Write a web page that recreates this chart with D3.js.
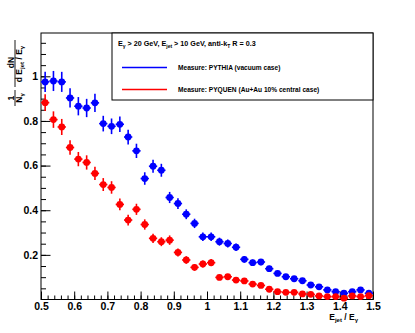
<!DOCTYPE html>
<html>
<head>
<meta charset="utf-8">
<script src="https://cdn.jsdelivr.net/npm/d3@7"></script>
<style>
  body { margin: 0; background: #fff; }
  text { font-family: "Liberation Sans", Arial, sans-serif; font-weight: bold; fill: #000; }
</style>
</head>
<body>
<svg id="chart" width="415" height="333"></svg>
<script>
// bin centres of E_jet / E_gamma (bin width 0.025)
const binCenters = [0.5125,0.5375,0.5625,0.5875,0.6125,0.6375,0.6625,0.6875,0.7125,0.7375,
                    0.7625,0.7875,0.8125,0.8375,0.8625,0.8875,0.9125,0.9375,0.9625,0.9875,
                    1.0125,1.0375,1.0625,1.0875,1.1125,1.1375,1.1625,1.1875,1.2125,1.2375,
                    1.2625,1.2875,1.3125,1.3375,1.3625,1.3875,1.4125,1.4375,1.4625,1.4875];
const binHalfWidth = 0.0125;

// PYTHIA (vacuum case)
const pythiaValues = [0.975,0.979,0.975,0.903,0.866,0.858,0.881,0.788,0.776,0.785,
                      0.728,0.666,0.542,0.597,0.579,0.457,0.430,0.382,0.341,0.281,
                      0.281,0.259,0.251,0.234,0.180,0.165,0.168,0.138,0.117,0.102,
                      0.093,0.084,0.065,0.057,0.043,0.035,0.028,0.035,0.043,0.028];
const pythiaErrors = [0.045,0.045,0.045,0.043,0.041,0.041,0.041,0.035,0.035,0.035,
                      0.033,0.032,0.028,0.029,0.029,0.025,0.024,0.022,0.021,0.019,
                      0.019,0.018,0.018,0.017,0.015,0.014,0.014,0.013,0.012,0.011,
                      0.011,0.010,0.009,0.008,0.007,0.006,0.006,0.006,0.007,0.006];

// PYQUEN (Au+Au 10% central case)
const pyquenValues = [0.882,0.806,0.773,0.681,0.629,0.614,0.565,0.515,0.502,0.426,
                      0.356,0.404,0.336,0.274,0.259,0.266,0.211,0.177,0.144,0.159,
                      0.165,0.099,0.102,0.087,0.083,0.069,0.063,0.046,0.035,0.032,
                      0.032,0.025,0.023,0.016,0.013,0.013,0.006,0.016,0.013,0.017];
const pyquenErrors = [0.038,0.037,0.036,0.033,0.032,0.032,0.030,0.029,0.028,0.026,
                      0.024,0.025,0.023,0.021,0.020,0.021,0.018,0.017,0.015,0.016,
                      0.016,0.012,0.012,0.011,0.011,0.010,0.010,0.008,0.007,0.007,
                      0.007,0.006,0.006,0.005,0.005,0.005,0.003,0.005,0.005,0.005];

const xMajorTicks = [0.5,0.6,0.7,0.8,0.9,1.0,1.1,1.2,1.3,1.4,1.5];
const xTickLabels = ["0.5","0.6","0.7","0.8","0.9","1","1.1","1.2","1.3","1.4","1.5"];
const yMajorTicks = [0.2,0.4,0.6,0.8,1.0];
const yTickLabels = ["0.2","0.4","0.6","0.8","1"];

const svg = d3.select("#chart");
const frame = {left: 41, right: 373, top: 33, bottom: 299.5};

let xScale = d3.scaleLinear().domain([0.5, 1.5]).range([frame.left, frame.right]);
let yScale = d3.scaleLinear().domain([0, 1.194]).range([frame.bottom, frame.top]);

// frame
svg.append("rect")
    .attr("x", frame.left).attr("y", frame.top)
    .attr("width", frame.right - frame.left).attr("height", frame.bottom - frame.top)
    .attr("fill", "none").attr("stroke", "#000").attr("stroke-width", 1);

// x axis: ticks point up into the frame
let xMinor = d3.range(0.5, 1.5001, 0.02);
svg.append("g")
    .attr("transform", "translate(0," + frame.bottom + ")")
    .call(d3.axisBottom(xScale).tickValues(xMinor).tickSize(-4).tickFormat(""))
    .call(g => g.select(".domain").remove())
    .call(g => g.selectAll("line").attr("stroke", "#000"));
svg.append("g")
    .attr("transform", "translate(0," + frame.bottom + ")")
    .call(d3.axisBottom(xScale).tickValues(xMajorTicks).tickSize(-8).tickPadding(3)
        .tickFormat((d, i) => xTickLabels[i]))
    .call(g => g.select(".domain").remove())
    .call(g => g.selectAll("line").attr("stroke", "#000"))
    .call(g => g.selectAll("text").attr("font-size", "10.5px").attr("font-family", null));

// y axis: ticks point right into the frame
let yMinor = d3.range(0.05, 1.19, 0.05);
svg.append("g")
    .attr("transform", "translate(" + frame.left + ",0)")
    .call(d3.axisLeft(yScale).tickValues(yMinor).tickSize(-5).tickFormat(""))
    .call(g => g.select(".domain").remove())
    .call(g => g.selectAll("line").attr("stroke", "#000"));
svg.append("g")
    .attr("transform", "translate(" + frame.left + ",0)")
    .call(d3.axisLeft(yScale).tickValues(yMajorTicks).tickSize(-9.5).tickPadding(3)
        .tickFormat((d, i) => yTickLabels[i]))
    .call(g => g.select(".domain").remove())
    .call(g => g.selectAll("line").attr("stroke", "#000"))
    .call(g => g.selectAll("text").attr("font-size", "10.5px").attr("font-family", null));

// data points with error bars
function drawSeries(values, errors, color) {
    let pts = values.map((v, i) => ({x: binCenters[i], y: v, e: errors[i]}));
    let grp = svg.append("g");
    grp.selectAll("line.ey").data(pts).enter().append("line")
        .attr("x1", d => xScale(d.x)).attr("x2", d => xScale(d.x))
        .attr("y1", d => yScale(d.y - d.e)).attr("y2", d => yScale(d.y + d.e))
        .attr("stroke", color).attr("stroke-width", 1.6);
    grp.selectAll("line.ex").data(pts).enter().append("line")
        .attr("x1", d => xScale(d.x - binHalfWidth)).attr("x2", d => xScale(d.x + binHalfWidth))
        .attr("y1", d => yScale(d.y)).attr("y2", d => yScale(d.y))
        .attr("stroke", color).attr("stroke-width", 1.6);
    grp.selectAll("circle").data(pts).enter().append("circle")
        .attr("cx", d => xScale(d.x)).attr("cy", d => yScale(d.y))
        .attr("r", 3.4).attr("fill", color);
}
drawSeries(pythiaValues, pythiaErrors, "#0000ff");
drawSeries(pyquenValues, pyquenErrors, "#ff0000");

// legend
let leg = svg.append("g");
leg.append("rect").attr("x", 112).attr("y", 33).attr("width", 261).attr("height", 67)
    .attr("fill", "#fff").attr("stroke", "#000").attr("stroke-width", 1);
let head = leg.append("text").attr("x", 118).attr("y", 46).attr("font-size", "7.2px");
head.append("tspan").text("E");
head.append("tspan").attr("font-size", "5px").attr("dy", 1.6).text("γ");
head.append("tspan").attr("dy", -1.6).text(" > 20 GeV, E");
head.append("tspan").attr("font-size", "5px").attr("dy", 1.6).text("jet");
head.append("tspan").attr("dy", -1.6).text(" > 10 GeV, anti-k");
head.append("tspan").attr("font-size", "5px").attr("dy", 1.6).text("T");
head.append("tspan").attr("dy", -1.6).text(" R = 0.3");

const legendEntries = [
    {label: "Measure:  PYTHIA (vacuum case)", color: "#0000ff", y: 67.5},
    {label: "Measure:  PYQUEN (Au+Au 10% central case)", color: "#ff0000", y: 89.5}
];
legendEntries.forEach(e => {
    leg.append("line").attr("x1", 122).attr("x2", 167).attr("y1", e.y).attr("y2", e.y)
        .attr("stroke", e.color).attr("stroke-width", 1.5);
    leg.append("text").attr("x", 178).attr("y", e.y + 2.4).attr("font-size", "6.6px").text(e.label);
});

// x title
let xt = svg.append("text").attr("x", 358).attr("y", 320).attr("text-anchor", "end").attr("font-size", "8.5px");
xt.append("tspan").text("E");
xt.append("tspan").attr("font-size", "6px").attr("dy", 2).text("jet");
xt.append("tspan").attr("dy", -2).text(" / E");
xt.append("tspan").attr("font-size", "6px").attr("dy", 2).text("γ");

// y title (rotated fraction)
let yt = svg.append("g").attr("transform", "translate(15,107) rotate(-90)");
yt.append("text").attr("x", 9).attr("y", -1.5).attr("text-anchor", "middle").attr("font-size", "8.5px").text("1");
yt.append("line").attr("x1", 1).attr("x2", 17).attr("y1", 0).attr("y2", 0).attr("stroke", "#000").attr("stroke-width", 0.9);
let nt = yt.append("text").attr("x", 9).attr("y", 6.5).attr("text-anchor", "middle").attr("font-size", "8.5px");
nt.append("tspan").text("N");
nt.append("tspan").attr("font-size", "6px").attr("dy", 2).text("γ");
yt.append("text").attr("x", 44.5).attr("y", -1.5).attr("text-anchor", "middle").attr("font-size", "8.5px").text("dN");
yt.append("line").attr("x1", 20).attr("x2", 67).attr("y1", 0).attr("y2", 0).attr("stroke", "#000").attr("stroke-width", 0.9);
let dt = yt.append("text").attr("x", 43).attr("y", 6.5).attr("text-anchor", "middle").attr("font-size", "8.5px");
dt.append("tspan").text("d E");
dt.append("tspan").attr("font-size", "6px").attr("dy", 2).text("jet");
dt.append("tspan").attr("dy", -2).text(" / E");
dt.append("tspan").attr("font-size", "6px").attr("dy", 2).text("γ");
</script>
</body>
</html>
